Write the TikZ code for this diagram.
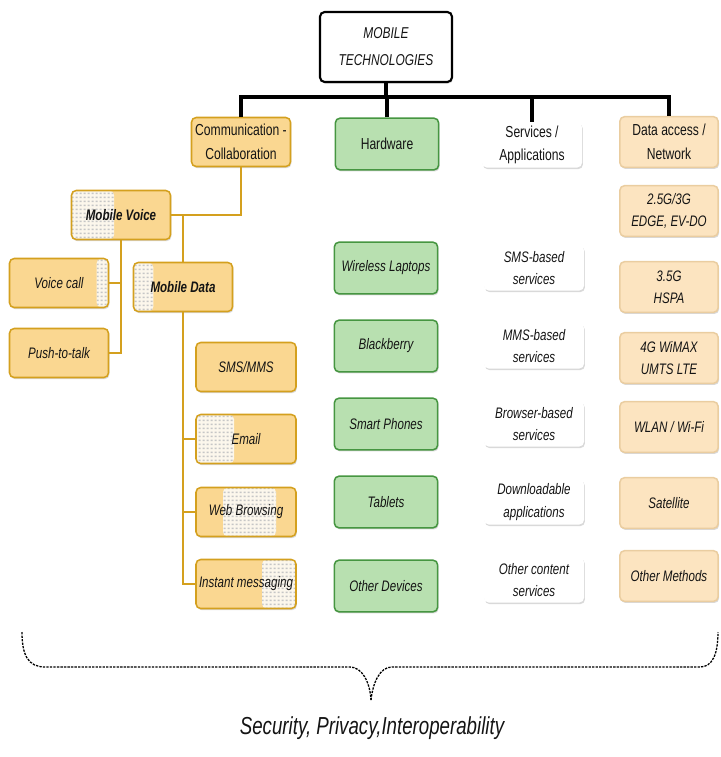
\documentclass[tikz,border=0pt]{standalone}
\usepackage{fontspec}
\setmainfont{Liberation Sans}[FakeStretch=0.76]
\usetikzlibrary{positioning, calc, shadows, patterns}
\definecolor{commfill}{RGB}{250,215,145}
\definecolor{commline}{RGB}{212,160,30}
\definecolor{hwfill}{RGB}{184,224,176}
\definecolor{hwline}{RGB}{70,150,65}
\definecolor{netfill}{RGB}{252,228,192}
\definecolor{netline}{RGB}{234,205,160}
\definecolor{patchbg}{RGB}{252,247,236}
\definecolor{inktext}{RGB}{20,20,20}

\pgfdeclarepatternformonly{squaredots}{\pgfpointorigin}{\pgfqpoint{3.6pt}{3.6pt}}{\pgfqpoint{3.6pt}{3.6pt}}{
  \pgfpathrectangle{\pgfqpoint{0.6pt}{0.8pt}}{\pgfqpoint{2pt}{1.6pt}}
  \pgfusepath{fill}}

\tikzset{
  box/.style={rounded corners=4pt, align=center, inner sep=2pt, text=inktext,
    font=\fontsize{13}{19}\selectfont\itshape, line width=1.3pt,
    drop shadow={opacity=0.3, shadow xshift=0.8pt, shadow yshift=-1.4pt}},
  head/.style={font=\fontsize{13.6}{20}\selectfont},
  bolditem/.style={font=\fontsize{13}{19}\selectfont\bfseries\itshape},
  rootbox/.style={box, fill=white, draw=black, line width=1.8pt,
    font=\fontsize{13.4}{23}\selectfont\itshape, minimum width=3.96cm, minimum height=2.1cm},
  commbox/.style={box, fill=commfill, draw=commline, minimum width=2.97cm, minimum height=1.47cm},
  hwbox/.style={box, fill=hwfill, draw=hwline, minimum width=3.1cm, minimum height=1.55cm},
  svcbox/.style={box, fill=white, minimum width=3.0cm, minimum height=1.35cm},
  netbox/.style={box, fill=netfill, draw=netline, minimum width=2.95cm, minimum height=1.52cm},
  patch/.style 2 args={path picture={
    \fill[patchbg] ($(path picture bounding box.south west)!#1!(path picture bounding box.south east)$)
      rectangle ($(path picture bounding box.north west)!#2!(path picture bounding box.north east)$);
    \fill[pattern=squaredots, pattern color=gray!45] ($(path picture bounding box.south west)!#1!(path picture bounding box.south east)$)
      rectangle ($(path picture bounding box.north west)!#2!(path picture bounding box.north east)$);}},
  topline/.style={line width=3pt, black},
  treeline/.style={line width=1.6pt, commline},
  bracestyle/.style={line width=1.1pt, black, dash pattern=on 2pt off 1pt}
}

\begin{document}
\begin{tikzpicture}[x=0.03cm, y=-0.03cm]
    \useasboundingbox (0,0) rectangle (720,757);

    % root and headers
    \node[rootbox] (root) at (386,47) {MOBILE\\TECHNOLOGIES};
    \coordinate (bus) at (386,97);
    \node[commbox, head] (comm) at (241,142) {Communication -\\Collaboration};
    \node[hwbox, head] (hw) at (387,144) {Hardware};
    \node[svcbox, head] (svc) at (532,145) {Services /\\Applications};
    \node[netbox, head] (net) at (669,142) {Data access /\\Network};

    \draw[topline] (root) -- (bus);
    \draw[topline] (comm.north) |- (bus) -| (net.north);
    \draw[topline] (hw.north) -- (hw.north |- bus);
    \draw[topline] (svc.north) -- (svc.north |- bus);

    % Communication - Collaboration
    \node[commbox, bolditem, patch={0}{0.43}] (mvoice) at (121,215) {Mobile Voice};
    \node[commbox, patch={0.88}{1}] (vcall) at (59,283) {Voice call};
    \node[commbox] (ptt) at (59,353) {Push-to-talk};
    \node[commbox, bolditem, patch={0}{0.2}] (mdata) at (183,287) {Mobile Data};
    \node[commbox, minimum width=3.0cm] (sms) at (246,367) {SMS/MMS};
    \node[commbox, minimum width=3.0cm, patch={0}{0.38}] (email) at (246,439) {Email};
    \node[commbox, minimum width=3.0cm, patch={0.27}{0.8}] (web) at (246,512) {Web Browsing};
    \node[commbox, minimum width=3.0cm, patch={0.66}{1}] (im) at (246,584) {Instant messaging};

    \draw[treeline] (comm.south) |- (mvoice.east);
    \draw[treeline] (mvoice.east -| mdata.north) -- (mdata.north);
    \draw[treeline] (mvoice.south) |- (vcall.east);
    \draw[treeline] (mvoice.south) |- (ptt.east);
    \draw[treeline] (mdata.south) |- (email.west);
    \draw[treeline] (mdata.south) |- (web.west);
    \draw[treeline] (mdata.south) |- (im.west);

    % Hardware
    \node[hwbox] (laptop) at (386,268) {Wireless Laptops};
    \node[hwbox] (berry) at (386,346) {Blackberry};
    \node[hwbox] (phone) at (386,424) {Smart Phones};
    \node[hwbox] (tablet) at (386,502) {Tablets};
    \node[hwbox] (device) at (386,586) {Other Devices};

    % Services / Applications
    \node[svcbox] (smssvc) at (534,268) {SMS-based\\services};
    \node[svcbox] (mmssvc) at (534,346) {MMS-based\\services};
    \node[svcbox] (websvc) at (534,424) {Browser-based\\services};
    \node[svcbox] (apps) at (534,502) {Downloadable\\applications};
    \node[svcbox] (content) at (534,580) {Other content\\services};

    % Data access / Network
    \node[netbox] (g3) at (669,211) {2.5G/3G\\EDGE, EV-DO};
    \node[netbox] (hspa) at (669,287) {3.5G\\HSPA};
    \node[netbox] (g4) at (669,358) {4G WiMAX\\UMTS LTE};
    \node[netbox] (wifi) at (669,427) {WLAN / Wi-Fi};
    \node[netbox] (sat) at (669,503) {Satellite};
    \node[netbox] (other) at (669,576) {Other Methods};

    % brace
    \node[font=\fontsize{21}{24}\selectfont\itshape, text=inktext] (sec) at (372,728) {Security, Privacy,Interoperability};
    \coordinate (tip) at (371,700);
    \draw[bracestyle] (22,632) .. controls (22,655) and (28,667) .. (45,667) -- (350,667)
        .. controls (362,667) and (370,682) .. (tip);
    \draw[bracestyle] (tip) .. controls (373,682) and (380,667) .. (392,667) -- (700,667)
        .. controls (712,667) and (718,655) .. (718,632);
\end{tikzpicture}
\end{document}
